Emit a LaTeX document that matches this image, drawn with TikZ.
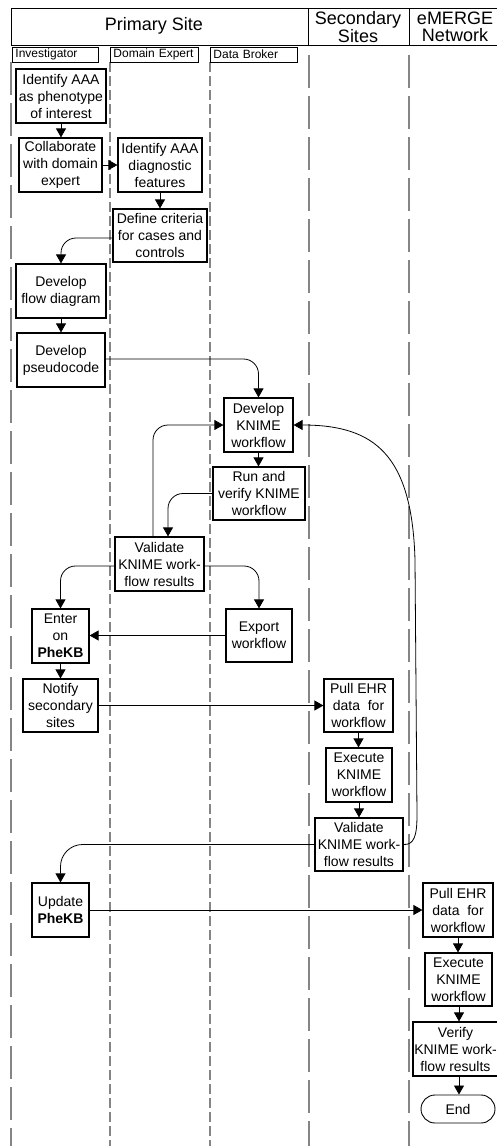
\documentclass[tikz,border=0pt]{standalone}
\usepackage{fontspec}
\setmainfont{Liberation Sans}
\usetikzlibrary{arrows.meta}
\begin{document}
\begin{tikzpicture}[x=1pt,y=-1pt,
  box/.style={draw, line width=1.2pt, fill=white, align=center, inner sep=0pt,
    font=\fontsize{14}{17}\selectfont},
  rolebox/.style={draw, line width=0.9pt, fill=white, anchor=west, text width=#1,
    align=left, inner xsep=3pt, inner ysep=0pt, minimum height=15pt,
    font=\fontsize{12}{14}\selectfont},
  head/.style={align=center, inner sep=0pt, font=\fontsize{18}{16.5}\selectfont},
  lanelong/.style={draw=black!48, line width=1.5pt, dash pattern=on 33pt off 8pt},
  laneshort/.style={draw=black!48, line width=1.5pt, dash pattern=on 10pt off 4pt},
  arr/.style={-{Triangle[width=10pt,length=9pt]}, line width=0.8pt},
  endbox/.style={draw, line width=0.9pt, fill=white, rounded corners=14pt,
    inner sep=0pt, font=\fontsize{14}{17}\selectfont}
]
\useasboundingbox (0,0) rectangle (497,1146);
\clip (0,0) rectangle (497,1146);

% lanes
\draw[lanelong] (11,62) -- (11,1146);
\draw[laneshort] (110,62) -- (110,1146);
\draw[laneshort] (210,62) -- (210,1146);
\draw[lanelong] (309,55) -- (309,1146);
\draw[lanelong] (409,55) -- (409,1146);

% header
\draw[line width=1pt] (11,8) rectangle (503,45);
\draw[line width=1pt] (308,8) -- (308,45);
\draw[line width=1pt] (409,8) -- (409,45);
\node[head] (hprim) at (154,26) {Primary Site};
\node[head] (hsec) at (358,27) {Secondary\\Sites};
\node[head] (hem) at (455,27) {eMERGE\\Network};

% roles
\node[rolebox=80pt] (rinv) at (12,54.5) {Investigator};
\node[rolebox=82pt] (rdom) at (110,54.5) {Domain Expert};
\node[rolebox=81pt] (rdat) at (210,54.5) {Data Broker};

% boxes
\node[box, minimum width=90pt, minimum height=54pt] (idA) at (61,96) {Identify AAA\\as phenotype\\of interest};
\node[box, minimum width=83pt, minimum height=54pt] (collab) at (60.5,165) {Collaborate\\with domain\\expert};
\node[box, minimum width=84pt, minimum height=54pt] (idF) at (160,165) {Identify AAA\\diagnostic\\features};
\node[box, minimum width=94pt, minimum height=53pt] (defC) at (160,235.5) {Define criteria\\for cases and\\controls};
\node[box, minimum width=90pt, minimum height=54pt] (flow) at (61,291) {Develop\\flow diagram};
\node[box, minimum width=88pt, minimum height=54pt] (pseudo) at (61,360) {Develop\\pseudocode};
\node[box, minimum width=69pt, minimum height=54pt] (devK) at (258.5,425) {Develop\\KNIME\\workflow};
\node[box, minimum width=92pt, minimum height=53pt] (runV) at (259,493.5) {Run and\\verify KNIME\\workflow};
\node[box, minimum width=89pt, minimum height=54pt] (valP) at (159.5,564) {Validate\\KNIME work-\\flow results};
\node[box, minimum width=66pt, minimum height=53pt] (export) at (259,635.5) {Export\\workflow};
\node[box, minimum width=57pt, minimum height=54pt] (enter) at (60.5,636) {Enter\\on\\\textbf{PheKB}};
\node[box, minimum width=75pt, minimum height=53pt] (notify) at (60.5,705.5) {Notify\\secondary\\sites};
\node[box, minimum width=69pt, minimum height=53pt] (pullS) at (358.5,705.5) {Pull EHR\\data~~for\\workflow};
\node[box, minimum width=66pt, minimum height=54pt] (execS) at (359,775) {Execute\\KNIME\\workflow};
\node[box, minimum width=88pt, minimum height=53pt] (valS) at (359,844.5) {Validate\\KNIME work-\\flow results};
\node[box, minimum width=57pt, minimum height=54pt] (update) at (60.5,910) {Update\\\textbf{PheKB}};
\node[box, minimum width=70pt, minimum height=54pt] (pullE) at (458,910) {Pull EHR\\data~~for\\workflow};
\node[box, minimum width=67pt, minimum height=53pt] (execE) at (458.5,979.5) {Execute\\KNIME\\workflow};
\node[box, minimum width=85pt, minimum height=54pt] (verE) at (455.5,1049) {Verify\\KNIME work-\\flow results};
\node[endbox, minimum width=74pt, minimum height=28pt] (endN) at (458,1109) {End};

% connectors
\draw[arr] (idA.south) -- (idA.south |- collab.north);
\draw[arr] (collab.east) -- (collab.east -| idF.west);
\draw[arr] (idF.south) -- (idF.south |- defC.north);
\draw[arr, rounded corners=15pt] ([yshift=-2.5pt]defC.west) -| (flow.north);
\draw[arr] (flow.south) -- (flow.south |- pseudo.north);
\draw[arr, rounded corners=15pt] ([yshift=1pt]pseudo.east) -| (devK.north);
\draw[arr] (devK.south) -- (devK.south |- runV.north);
\draw[arr, rounded corners=15pt] (runV.west) -| ([xshift=8.5pt]valP.north);
\draw[arr, rounded corners=15pt] ([xshift=-6.5pt]valP.north) |- (devK.west);
\draw[arr, rounded corners=15pt] ([yshift=-2pt]valP.east) -| (export.north);
\draw[arr, rounded corners=15pt] ([yshift=-2pt]valP.west) -| (enter.north);
\draw[arr] (export.west) -- (export.west -| enter.east);
\draw[arr] (enter.south) -- (enter.south |- notify.north);
\draw[arr] (notify.east) -- (notify.east -| pullS.west);
\draw[arr] (pullS.south) -- (pullS.south |- execS.north);
\draw[arr] (execS.south) -- (execS.south |- valS.north);
\draw[arr] (valS.east) .. controls (414,845) and (417,836) .. (417,815)
  -- (415,560) .. controls (412,455) and (375,425) .. (devK.east);
\draw[arr, rounded corners=22pt] (valS.west) -| (update.north);
\draw[arr] (update.east) -- (update.east -| pullE.west);
\draw[arr] (pullE.south) -- (pullE.south |- execE.north);
\draw[arr] ([xshift=0.5pt]execE.south) -- ([xshift=0.5pt]execE.south |- verE.north);
\draw[arr] ([xshift=3.5pt]verE.south) -- ([xshift=3.5pt]verE.south |- endN.north);
\end{tikzpicture}
\end{document}
